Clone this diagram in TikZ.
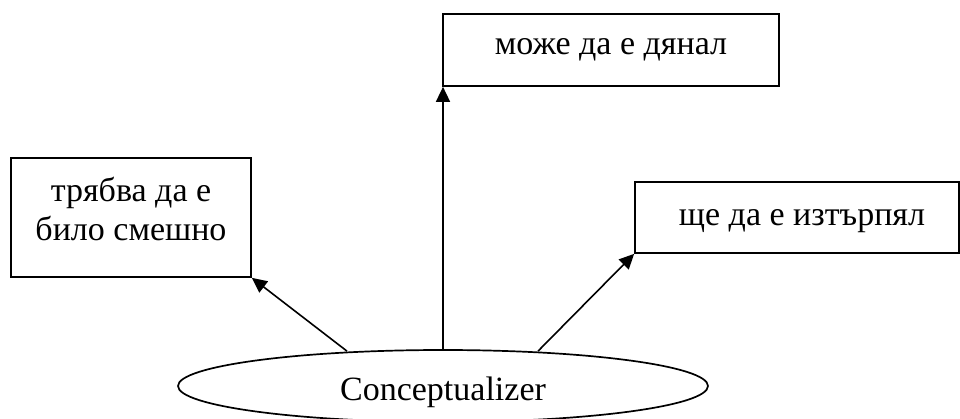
\documentclass[tikz,border=0pt]{standalone}
\usepackage{fontspec}
\setmainfont{Liberation Serif}
\usetikzlibrary{positioning, arrows.meta, shapes}

\begin{document}
\begin{tikzpicture}[
        x=1pt, y=1pt,
        every node/.style={inner sep=0pt},
        kasten/.style={draw, rectangle, line width=1.7pt},
        schrift/.style={font=\fontsize{34}{39}\selectfont, align=center, anchor=base},
        pfeil/.style={line width=1.6pt, -{Triangle[length=15pt, width=14pt]}}
    ]

    % Rahmen des Bildes
    \useasboundingbox (0,0) rectangle (960,418);

    % Ellipse unten
    \node[draw, ellipse, line width=1.7pt, minimum width=530pt, minimum height=72pt] (concept) at (443,32) {};
    \node[schrift] (concepttext) at (443,18) {Conceptualizer};

    % Kasten links
    \node[kasten, minimum width=240pt, minimum height=119pt] (links) at (131,200.5) {};
    \node[schrift] (linkstext) at (131,178) {трябва да е\\било смешно};

    % Kasten oben
    \node[kasten, minimum width=336pt, minimum height=72pt] (oben) at (611,368) {};
    \node[schrift] (obentext) at (611,363) {може да е дянал};

    % Kasten rechts
    \node[kasten, minimum width=324pt, minimum height=71pt] (rechts) at (797,200.5) {};
    \node[schrift] (rechtstext) at (802,193) {ще да е изтърпял};

    % Pfeile von der Ellipse zu den Kästen
    \draw[pfeil] (concept.north) ++(-96,-2) coordinate (ablinks) (ablinks) -- (links.south east);
    \draw[pfeil] (concept.north) -- (concept.north |- oben.south);
    \draw[pfeil] (concept.north) ++(95,-2) coordinate (abrechts) (abrechts) -- (rechts.south west);

\end{tikzpicture}
\end{document}
